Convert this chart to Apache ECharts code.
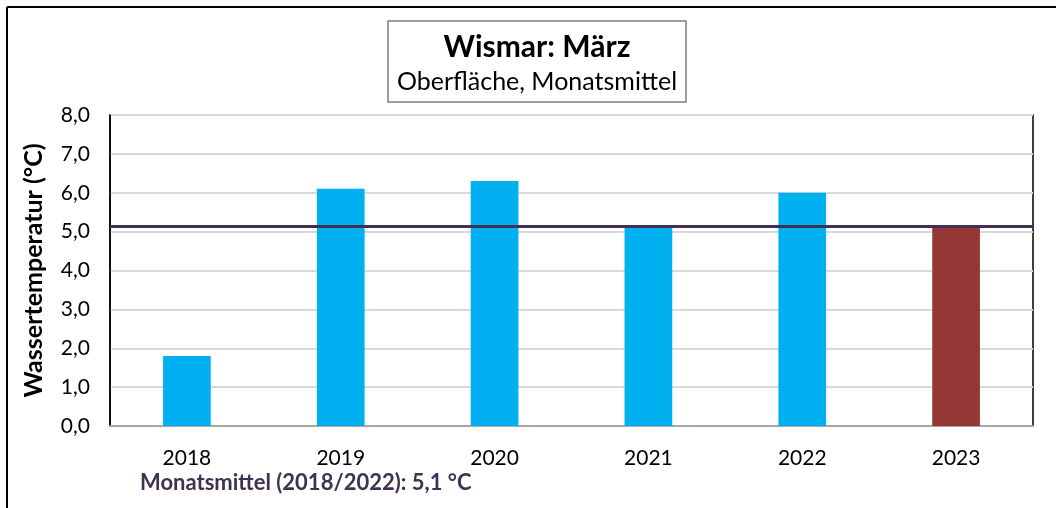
<!DOCTYPE html>
<html>
<head>
<meta charset="utf-8">
<script src="https://cdn.jsdelivr.net/npm/echarts@6/dist/echarts.min.js"></script>
<style>
  html, body { margin: 0; padding: 0; background: #fff; }
  #chart { width: 1056px; height: 508px; }
</style>
</head>
<body>
<div id="chart"></div>
<script>
// Daten
const years = ['2018', '2019', '2020', '2021', '2022', '2023']
const temps = [1.8, 6.1, 6.3, 5.15, 6.0, 5.15]
const meanValue = 5.15
const meanLabel = 'Monatsmittel (2018/2022): 5,1 °C'

const font = 'Lato, "Open Sans", sans-serif'

let chart = echarts.init(document.getElementById('chart'))

let option = {
  backgroundColor: '#fff',
  animation: false,
  textStyle: { fontFamily: font },
  grid: {
    left: 110, right: 23, top: 115, bottom: 82,
    show: true, borderColor: '#000', borderWidth: 1.5
  },
  xAxis: {
    type: 'category',
    data: years,
    axisLine: { lineStyle: { color: '#a6a6a6', width: 2 } },
    axisTick: { show: false },
    axisLabel: { color: '#000', fontSize: 21, margin: 22, fontFamily: font }
  },
  yAxis: {
    type: 'value',
    min: 0, max: 8, interval: 1,
    name: 'Wassertemperatur (°C)',
    nameLocation: 'middle',
    nameGap: 64,
    nameTextStyle: { color: '#000', fontSize: 25, fontWeight: 'bold', fontFamily: font },
    axisLine: { show: true, lineStyle: { color: '#000', width: 1.5 } },
    axisTick: { show: false },
    axisLabel: {
      color: '#000', fontSize: 21, margin: 20, fontFamily: font,
      formatter: v => v.toFixed(1).replace('.', ',')
    },
    splitLine: { lineStyle: { color: '#d9d9d9', width: 2 } }
  },
  series: [
    {
      type: 'bar',
      barWidth: '31%',
      data: temps.map((v, i) => ({
        value: v,
        itemStyle: { color: i === temps.length - 1 ? '#953735' : '#00b0f0' }
      })),
      markLine: {
        silent: true,
        symbol: 'none',
        label: { show: false },
        lineStyle: { color: '#403152', width: 3, type: 'solid' },
        data: [{ yAxis: meanValue }]
      }
    }
  ],
  graphic: [
    // äußerer Rahmen (oben und links)
    { type: 'line', shape: { x1: 7, y1: 7, x2: 1056, y2: 7 }, style: { stroke: '#000', lineWidth: 2 } },
    { type: 'line', shape: { x1: 7, y1: 7, x2: 7, y2: 508 }, style: { stroke: '#000', lineWidth: 2 } },
    // Titelkasten
    {
      type: 'rect',
      shape: { x: 388, y: 21, width: 298, height: 81 },
      style: { fill: '#fff', stroke: '#7f7f7f', lineWidth: 1.5 }
    },
    {
      type: 'text', x: 537, y: 47,
      style: {
        text: 'Wismar: März', fill: '#000', font: 'bold 30px ' + font,
        align: 'center', verticalAlign: 'middle'
      }
    },
    {
      type: 'text', x: 537, y: 82,
      style: {
        text: 'Oberfläche, Monatsmittel', fill: '#000', font: '25px ' + font,
        align: 'center', verticalAlign: 'middle'
      }
    },
    {
      type: 'text', x: 140, y: 483,
      style: {
        text: meanLabel, fill: '#403152', font: 'bold 22px ' + font,
        align: 'left', verticalAlign: 'middle'
      }
    }
  ]
}

chart.setOption(option)
</script>
</body>
</html>
